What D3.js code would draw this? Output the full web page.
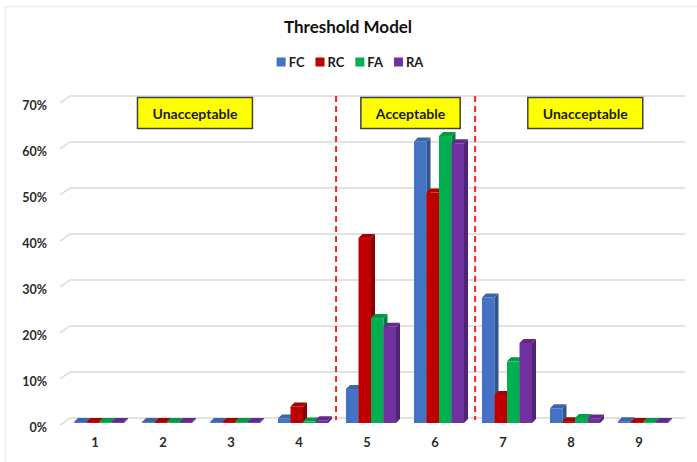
<!DOCTYPE html>
<html>
<head>
<meta charset="utf-8">
<script src="https://cdn.jsdelivr.net/npm/d3@7"></script>
<style>
  html, body { margin: 0; padding: 0; background: #fff; }
  svg { display: block; font-family: Lato, "Open Sans", sans-serif; }
</style>
</head>
<body>
<svg id="chart" width="697" height="462"></svg>
<script>
// ---- data ----
const categories = ["1", "2", "3", "4", "5", "6", "7", "8", "9"];
const seriesNames = ["FC", "RC", "FA", "RA"];
const seriesColors = ["#4472C4", "#C00000", "#00B050", "#7030A0"];
const fcValues = [0.2, 0.2, 0.2, 1.0, 7.4, 61.2, 27.3, 3.2, 0.4];
const rcValues = [0.2, 0.2, 0.2, 3.6, 40.2, 50.1, 6.1, 0.4, 0.2];
const faValues = [0.2, 0.2, 0.2, 0.3, 22.8, 62.4, 13.4, 1.1, 0.2];
const raValues = [0.2, 0.2, 0.2, 0.6, 20.9, 60.8, 17.4, 1.0, 0.2];
const yTicks = [0, 10, 20, 30, 40, 50, 60, 70];
const titleText = "Threshold Model";
// zone annotations (positions in category units, 1-based)
const zoneLabels = ["Unacceptable", "Acceptable", "Unacceptable"];
const zonePositions = [2.47, 5.64, 8.21];
const dividerPositions = [4.545, 6.59];

const allSeries = [fcValues, rcValues, faValues, raValues];

// ---- layout ----
const svg = d3.select("#chart");
const W = 697, H = 462;
const depthX = 4, depthY = 4;
const FONT = "Lato, sans-serif";

// faint frame
svg.append("rect").attr("x", 5.5).attr("y", 6.5).attr("width", W).attr("height", H)
  .attr("fill", "#fff").attr("stroke", "#ececec").attr("stroke-width", 1.5);

const x = d3.scaleBand().domain(categories).range([61, 673]).paddingInner(0).paddingOuter(0);
const groupWidth = 50;
const x1 = d3.scaleBand().domain(seriesNames).range([0, groupWidth]).padding(0);
const groupOffset = (x.bandwidth() - groupWidth) / 2 + 4;
const catPos = d3.scaleLinear().domain([1, 9]).range([x("1") + x.bandwidth() / 2, x("9") + x.bandwidth() / 2]);

const y = d3.scaleLinear().domain([0, 70]).range([423, 101]);

// gridlines (back wall + floor slant)
const grid = svg.append("g");
yTicks.forEach(t => {
  const yy = y(t);
  grid.append("path")
    .attr("d", `M60,${yy + 2} L70,${yy - 5} L685,${yy - 5}`)
    .attr("fill", "none").attr("stroke", "#d9d9d9").attr("stroke-width", 1.5);
});

// y axis labels via d3 axis
const yAxis = svg.append("g").attr("transform", "translate(47,4)")
  .call(d3.axisLeft(y).tickValues(yTicks).tickFormat(d => d + "%").tickSize(0).tickPadding(0));
yAxis.select(".domain").remove();
yAxis.selectAll("text").attr("font-family", FONT).attr("font-weight", "bold")
  .attr("font-size", 12.5).attr("fill", "#2a2a2a");

// x axis labels
const xAxis = svg.append("g").attr("transform", "translate(0,439)")
  .call(d3.axisBottom(x).tickSize(0).tickPadding(0));
xAxis.select(".domain").remove();
xAxis.selectAll("text").attr("font-family", FONT).attr("font-weight", "bold")
  .attr("font-size", 13).attr("fill", "#2a2a2a").attr("dy", "0.6em");

// dividers
dividerPositions.forEach(p => {
  svg.append("line")
    .attr("x1", catPos(p)).attr("x2", catPos(p))
    .attr("y1", y(70) - 5).attr("y2", y(0) - 3)
    .attr("stroke", "#ff2020").attr("stroke-width", 2)
    .attr("stroke-dasharray", "6,4");
});

// bars (3D)
const bars = svg.append("g");
categories.forEach((c, ci) => {
  seriesNames.forEach((s, si) => {
    const v = allSeries[si][ci];
    const bx = x(c) + groupOffset + x1(s);
    const bw = x1.bandwidth();
    const y0 = y(0), yt = y(v);
    const col = d3.color(seriesColors[si]);
    const g = bars.append("g");
    g.append("rect").attr("x", bx).attr("y", yt).attr("width", bw).attr("height", y0 - yt)
      .attr("fill", col.formatHex());
    g.append("path")
      .attr("d", `M${bx + bw},${yt} L${bx + bw + depthX},${yt - depthY} L${bx + bw + depthX},${y0 - depthY} L${bx + bw},${y0} Z`)
      .attr("fill", col.darker(0.9).formatHex());
    g.append("path")
      .attr("d", `M${bx},${yt} L${bx + depthX},${yt - depthY} L${bx + bw + depthX},${yt - depthY} L${bx + bw},${yt} Z`)
      .attr("fill", col.darker(0.35).formatHex());
  });
});

// zone label boxes
zonePositions.forEach((p, i) => {
  const cx = catPos(p), cy = 113;
  const g = svg.append("g");
  const txt = g.append("text").attr("x", cx).attr("y", cy)
    .attr("text-anchor", "middle").attr("dominant-baseline", "central")
    .attr("font-family", FONT).attr("font-weight", "bold").attr("font-size", 14)
    .attr("fill", "#1a1a1a").text(zoneLabels[i]);
  const tw = txt.node().getComputedTextLength();
  const bw = tw + 30;
  g.insert("rect", "text").attr("x", cx - bw / 2).attr("y", cy - 15.5).attr("width", bw).attr("height", 31)
    .attr("fill", "#ffff00").attr("stroke", "#404040").attr("stroke-width", 1.5);
});

// title
svg.append("text").attr("x", 348).attr("y", 26).attr("text-anchor", "middle")
  .attr("dominant-baseline", "central")
  .attr("font-family", FONT).attr("font-weight", "bold").attr("font-size", 17)
  .attr("fill", "#111").text(titleText);

// legend
const legend = svg.append("g");
let lx = 0;
seriesNames.forEach((s, i) => {
  const g = legend.append("g").attr("transform", `translate(${lx},0)`);
  g.append("rect").attr("x", 0).attr("y", -4.5).attr("width", 9).attr("height", 9).attr("fill", seriesColors[i]);
  const t = g.append("text").attr("x", 12).attr("y", 0).attr("dominant-baseline", "central")
    .attr("font-family", FONT).attr("font-weight", "bold").attr("font-size", 13)
    .attr("fill", "#1a1a1a").text(s);
  lx += 12 + t.node().getComputedTextLength() + 11;
});
const legendW = lx - 11;
legend.attr("transform", `translate(${350 - legendW / 2},62)`);
</script>
</body>
</html>
